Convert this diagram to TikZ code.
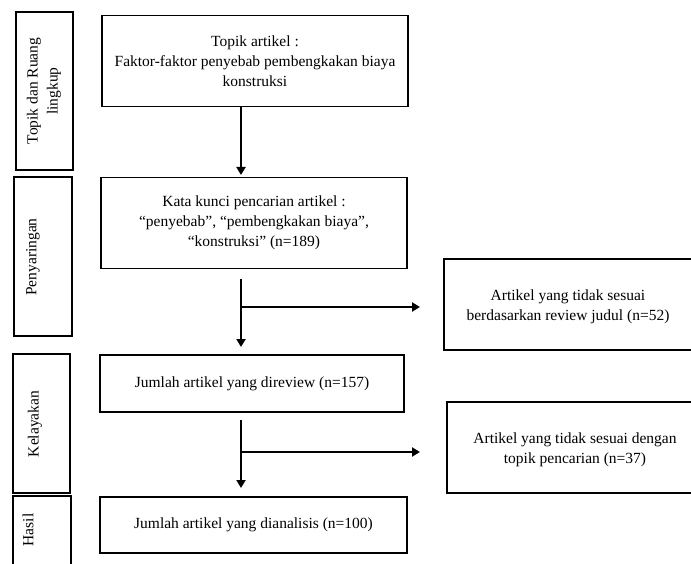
\documentclass[tikz,border=0pt]{standalone}
\usepackage{fontspec}
\setmainfont{Liberation Serif}
\usetikzlibrary{arrows.meta}
\begin{document}
\begin{tikzpicture}[x=1pt,y=-1pt,
  every node/.style={font=\fontsize{15.5}{20}\selectfont},
  frame/.style={draw,line width=1.8pt},
  lbl/.style={align=center,inner sep=0pt},
  flow/.style={line width=2.2pt,-{Triangle[length=8pt,width=9pt]}},
  branch/.style={line width=2.2pt}]
\useasboundingbox (0,0) rectangle (691,564);
% left stage boxes
\draw[frame] (16,12) rectangle (73,170);
\draw[frame] (14,177) rectangle (72,336);
\draw[frame] (13,354) rectangle (70,493);
\draw[frame] (13,580) -- (13,496) -- (71,496) -- (71,580);
\node[lbl,rotate=90] (s1) at (44,91) {Topik dan Ruang\\lingkup};
\node[lbl,rotate=90] (s2) at (33,257) {Penyaringan};
\node[lbl,rotate=90] (s3) at (35,424) {Kelayakan};
\node[lbl,rotate=90] (s4) at (28,530) {Hasil};
% main boxes
\node[frame,lbl,minimum width=306,minimum height=91] (b1) at (255,61)
  {Topik artikel :\\Faktor-faktor penyebab pembengkakan biaya\\konstruksi};
\node[frame,lbl,minimum width=306,minimum height=91] (b2) at (254,223)
  {Kata kunci pencarian artikel :\\``penyebab'', ``pembengkakan biaya'',\\``konstruksi'' (n=189)};
\node[frame,lbl,minimum width=304,minimum height=57] (b3) at (252,383.5)
  {Jumlah artikel yang direview (n=157)};
\node[frame,lbl,minimum width=307,minimum height=56] (b4) at (253.5,525)
  {Jumlah artikel yang dianalisis (n=100)};
% right boxes
\node[frame,lbl,minimum width=256,minimum height=91] (r1) at (572,304.5) {};
\node[lbl] (r1t) at (568,306.5) {Artikel yang tidak sesuai\\berdasarkan review judul (n=52)};
\node[frame,lbl,minimum width=252,minimum height=91] (r2) at (573,447.5) {};
\node[lbl] (r2t) at (575,449.5) {Artikel yang tidak sesuai dengan\\topik pencarian (n=37)};
% connectors
\coordinate (e1) at (241,175);
\draw[flow] (b1.south -| e1) -- (e1);
\coordinate (a2s) at (241,279);
\coordinate (a2e) at (241,347);
\coordinate (j2) at (241,307);
\coordinate (e2) at (420,307);
\draw[flow] (a2s) -- (a2e);
\draw[flow] (j2) -- (e2);
\coordinate (a3s) at (241,420);
\coordinate (a3e) at (241,488);
\coordinate (j3) at (241,452);
\coordinate (e3) at (420,452);
\draw[flow] (a3s) -- (a3e);
\draw[flow] (j3) -- (e3);
\end{tikzpicture}
\end{document}
